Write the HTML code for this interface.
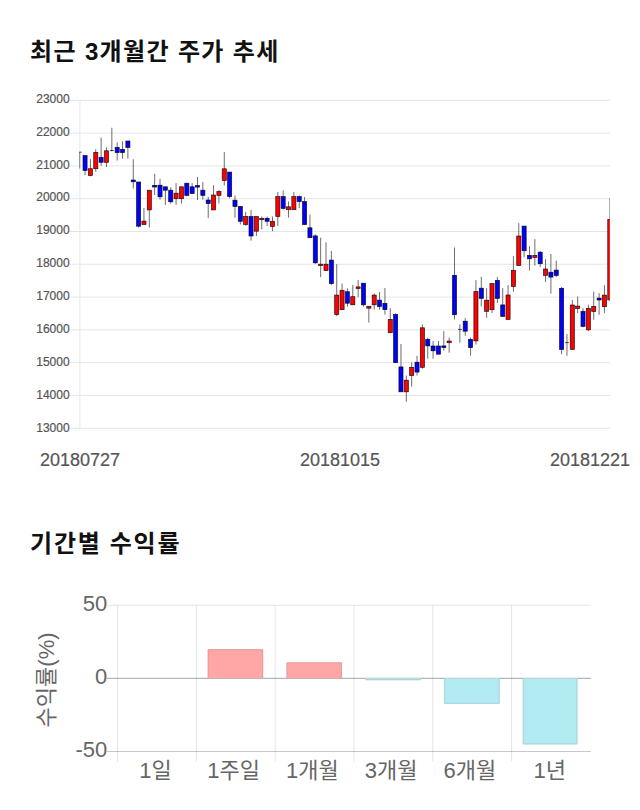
<!DOCTYPE html>
<html lang="ko"><head><meta charset="utf-8"><title>최근 3개월간 주가 추세 / 기간별 수익률</title>
<style>
html,body{margin:0;padding:0;background:#fff}
body{width:640px;height:810px;overflow:hidden;position:relative;font-family:"Liberation Sans",sans-serif}
svg{position:absolute;left:0;top:0;display:block}
defs path{vector-effect:non-scaling-stroke}
text{font-family:"Liberation Sans","Noto Sans CJK KR",sans-serif}
</style></head>
<body>
<svg width="640" height="810" viewBox="0 0 640 810" role="img">
<title>최근 3개월간 주가 추세 (20180727 ~ 20181221), 기간별 수익률 (1일, 1주일, 1개월, 3개월, 6개월, 1년)</title>
<defs>
<clipPath id="cp"><rect x="79.2" y="90" width="530.6" height="345"/></clipPath>
</defs>
<g fill="#111" aria-label="최근 3개월간 주가 추세"><text x="30" y="60.3" font-size="24" font-weight="bold" textLength="248.3" lengthAdjust="spacing">최근 3개월간 주가 추세</text></g>
<g fill="#111" aria-label="기간별 수익률"><text x="30.1" y="551.8" font-size="24" font-weight="bold" textLength="149.4" lengthAdjust="spacing">기간별 수익률</text></g>
<g stroke="#e5e5e5" stroke-width="1">
<line x1="69.4" x2="609.8" y1="100.3" y2="100.3"/>
<line x1="69.4" x2="609.8" y1="133.09" y2="133.09"/>
<line x1="69.4" x2="609.8" y1="165.89" y2="165.89"/>
<line x1="69.4" x2="609.8" y1="198.69" y2="198.69"/>
<line x1="69.4" x2="609.8" y1="231.48" y2="231.48"/>
<line x1="69.4" x2="609.8" y1="264.28" y2="264.28"/>
<line x1="69.4" x2="609.8" y1="297.07" y2="297.07"/>
<line x1="69.4" x2="609.8" y1="329.87" y2="329.87"/>
<line x1="69.4" x2="609.8" y1="362.66" y2="362.66"/>
<line x1="69.4" x2="609.8" y1="395.46" y2="395.46"/>
<line x1="69.4" x2="609.8" y1="428.25" y2="428.25"/>
</g>
<line x1="79.9" x2="79.9" y1="100.3" y2="428.25" stroke="#e8e8e8" stroke-width="1.1"/>
<g fill="#555" stroke="#555" stroke-width="0.2" font-size="12" text-anchor="end">
<text x="69.65" y="102.75">23000</text>
<text x="69.65" y="135.65">22000</text>
<text x="69.65" y="168.55">21000</text>
<text x="69.65" y="201.45">20000</text>
<text x="69.65" y="234.35">19000</text>
<text x="69.65" y="267.25">18000</text>
<text x="69.65" y="300.15">17000</text>
<text x="69.65" y="333.05">16000</text>
<text x="69.65" y="365.95">15000</text>
<text x="69.65" y="398.85">14000</text>
<text x="69.65" y="431.75">13000</text>
</g>
<g clip-path="url(#cp)">
<path d="M79.7 152.2V168.5M85.05 155.6V175.2M90.41 158.9V176.3M95.76 149.2V171.8M101.12 137.5V165.7M106.47 147.4V167.1M111.83 127.7V151.5M117.18 142.4V160.6M122.54 141.3V158.7M127.89 141V158.7M133.25 159.2V188.6M138.6 182V227.5M143.95 208.1V224.5M149.31 190.2V227.5M154.66 173.9V195M160.02 178.7V199.7M165.37 186.8V204.9M170.73 187.3V203.6M176.08 183.2V204.9M181.44 186.8V203.6M186.79 183.2V196.4M192.14 183.2V193.6M197.5 176.9V200M202.85 182.1V199.7M208.21 196.8V218.1M213.56 185.2V209.9M218.92 190V203.6M224.27 151.9V185.5M229.63 172.1V198.2M234.98 195.5V217.6M240.33 206.4V224.4M245.69 211.8V225.8M251.04 210V240.7M256.4 216.5V236M261.75 216.5V229.4M267.11 216.5V226M272.46 216.5V231.2M277.82 192.1V226M283.17 190.3V209.5M288.53 201.6V217.6M293.88 192.1V209.7M299.23 195.5V208.1M304.59 197V224.6M309.94 214.6V237.7M315.3 234.2V263.8M320.65 237.7V277.1M326.01 242.3V270.6M331.36 250.9V285.2M336.72 264.2V316.1M342.07 283.5V309.7M347.42 288.3V306.6M352.78 285.1V304.8M358.13 280.1V297.1M363.49 283.2V306.6M368.84 306.3V322.6M374.2 293.5V309.7M379.55 292V309.6M384.91 288.1V314.6M390.26 308.2V332.7M395.62 313.3V362.6M400.97 344V391.8M406.32 375.5V401.7M411.68 362.4V386.7M417.03 355.8V375.5M422.39 324.5V368.7M427.74 337.7V358.8M433.1 341V358.8M438.45 341V354.2M443.81 331.1V350.6M449.16 337.6V352.7M454.51 247.5V319.5M459.87 324.3V342.6M465.22 318.1V335.8M470.58 337.6V355.6M475.93 280.1V344.5M481.29 276.9V306.5M486.64 288.2V317.8M492 283.5V313.1M497.35 276.9V303.1M502.71 288.2V316.5M508.06 285.2V319.4M513.41 255.9V291.7M518.77 223.1V265.6M524.12 226.1V257.3M529.48 246.1V270.5M534.83 239.1V265.6M540.19 251V267.1M545.54 259.1V281.9M550.9 254V293.7M556.25 260.6V277M561.61 287V354.2M566.96 334.1V355.8M572.31 300V349.4M577.67 296.5V313M583.02 308.3V327.3M588.38 304.8V331.1M593.73 291.7V319.7M599.09 293.2V314.8M604.44 285.2V313.2M609.8 197.9V301" stroke="#000" stroke-opacity="0.68" stroke-width="0.85" fill="none"/>
<path d="M77.8 152.2H81.6M109.93 150.5H113.73M457.97 329.4H461.77M565.06 342.6H568.86" stroke="#000" stroke-opacity="0.85" stroke-width="0.8" fill="none"/>
<g stroke="#000" stroke-opacity="0.85" stroke-width="0.7">
<g fill="#0000ff"><rect x="83" y="155.6" width="4.1" height="14.9"/><rect x="99.07" y="157.3" width="4.1" height="5"/><rect x="115.13" y="147.4" width="4.1" height="5.2"/><rect x="120.49" y="149.4" width="4.1" height="3.2"/><rect x="125.84" y="141" width="4.1" height="6.4"/><rect x="131.19" y="180" width="4.1" height="1.8"/><rect x="136.55" y="182" width="4.1" height="44.2"/><rect x="152.61" y="185.4" width="4.1" height="1.6"/><rect x="157.97" y="185.2" width="4.1" height="11.6"/><rect x="163.32" y="186.8" width="4.1" height="3.4"/><rect x="168.68" y="190.2" width="4.1" height="11.6"/><rect x="184.74" y="183.2" width="4.1" height="12.2"/><rect x="190.09" y="186.8" width="4.1" height="6.8"/><rect x="195.45" y="185.5" width="4.1" height="1.6"/><rect x="200.8" y="190.2" width="4.1" height="5.2"/><rect x="206.16" y="200" width="4.1" height="3.6"/><rect x="227.58" y="172.1" width="4.1" height="24.5"/><rect x="232.93" y="200.2" width="4.1" height="6.2"/><rect x="238.28" y="206.4" width="4.1" height="14.9"/><rect x="248.99" y="216.5" width="4.1" height="19.5"/><rect x="265.06" y="218.3" width="4.1" height="3"/><rect x="281.12" y="196.6" width="4.1" height="11.8"/><rect x="297.18" y="196.6" width="4.1" height="4.9"/><rect x="302.54" y="201.5" width="4.1" height="23.1"/><rect x="307.89" y="227.8" width="4.1" height="9.9"/><rect x="313.25" y="235.9" width="4.1" height="26.9"/><rect x="329.31" y="260.1" width="4.1" height="23.5"/><rect x="345.37" y="291.7" width="4.1" height="11.5"/><rect x="361.44" y="283.2" width="4.1" height="21.6"/><rect x="377.5" y="300.1" width="4.1" height="6.4"/><rect x="382.86" y="303.4" width="4.1" height="6.2"/><rect x="393.57" y="314.6" width="4.1" height="48"/><rect x="398.92" y="366.9" width="4.1" height="24.9"/><rect x="414.98" y="362.2" width="4.1" height="9.9"/><rect x="425.69" y="339.3" width="4.1" height="6.6"/><rect x="431.05" y="346" width="4.1" height="4.8"/><rect x="436.4" y="346" width="4.1" height="8.2"/><rect x="441.76" y="345.9" width="4.1" height="1.7"/><rect x="452.46" y="275.3" width="4.1" height="39.4"/><rect x="463.17" y="321.2" width="4.1" height="10"/><rect x="468.53" y="339.3" width="4.1" height="8.3"/><rect x="479.24" y="288.2" width="4.1" height="10.2"/><rect x="495.3" y="280.3" width="4.1" height="18.1"/><rect x="500.66" y="304.9" width="4.1" height="11.6"/><rect x="522.07" y="226.1" width="4.1" height="24.6"/><rect x="527.43" y="255.4" width="4.1" height="3.4"/><rect x="538.14" y="252.2" width="4.1" height="11.5"/><rect x="548.85" y="272.2" width="4.1" height="4.9"/><rect x="554.2" y="270.1" width="4.1" height="5.3"/><rect x="559.56" y="288.3" width="4.1" height="61.1"/><rect x="580.97" y="311.3" width="4.1" height="15.1"/><rect x="597.04" y="298.1" width="4.1" height="1.9"/></g>
<g fill="#ff0000"><rect x="88.36" y="168.7" width="4.1" height="6.8"/><rect x="93.71" y="152.4" width="4.1" height="16.3"/><rect x="104.42" y="150.8" width="4.1" height="11.5"/><rect x="141.9" y="221.1" width="4.1" height="3.4"/><rect x="147.26" y="190.2" width="4.1" height="19.7"/><rect x="174.03" y="193.2" width="4.1" height="5.5"/><rect x="179.39" y="186.8" width="4.1" height="11.9"/><rect x="211.51" y="195" width="4.1" height="14.9"/><rect x="216.87" y="191.6" width="4.1" height="3.8"/><rect x="222.22" y="168.8" width="4.1" height="11.7"/><rect x="243.64" y="216.5" width="4.1" height="7.9"/><rect x="254.35" y="216.5" width="4.1" height="14.7"/><rect x="259.7" y="218.3" width="4.1" height="1.4"/><rect x="270.41" y="221.3" width="4.1" height="5.2"/><rect x="275.77" y="196.6" width="4.1" height="19.9"/><rect x="286.48" y="206.8" width="4.1" height="2.9"/><rect x="291.83" y="196.6" width="4.1" height="13.1"/><rect x="318.6" y="264.2" width="4.1" height="1.3"/><rect x="323.96" y="264.2" width="4.1" height="6.4"/><rect x="334.67" y="295.1" width="4.1" height="19.4"/><rect x="340.02" y="290.3" width="4.1" height="19.4"/><rect x="350.73" y="296.7" width="4.1" height="8.1"/><rect x="356.08" y="286.9" width="4.1" height="1.6"/><rect x="366.79" y="306.3" width="4.1" height="1.9"/><rect x="372.15" y="295.1" width="4.1" height="9.7"/><rect x="388.21" y="319.4" width="4.1" height="13.3"/><rect x="404.27" y="380.2" width="4.1" height="11.6"/><rect x="409.63" y="367.3" width="4.1" height="8.2"/><rect x="420.34" y="327.8" width="4.1" height="39.5"/><rect x="447.11" y="341" width="4.1" height="1.7"/><rect x="473.88" y="291.6" width="4.1" height="49.3"/><rect x="484.59" y="300.2" width="4.1" height="11.1"/><rect x="489.95" y="283.5" width="4.1" height="26.2"/><rect x="506.01" y="295" width="4.1" height="24.4"/><rect x="511.36" y="270.3" width="4.1" height="16.3"/><rect x="516.72" y="236" width="4.1" height="29.6"/><rect x="532.78" y="255.4" width="4.1" height="2"/><rect x="543.49" y="269" width="4.1" height="6.4"/><rect x="570.26" y="305" width="4.1" height="44.4"/><rect x="575.62" y="306.1" width="4.1" height="2.3"/><rect x="586.33" y="308.3" width="4.1" height="21.5"/><rect x="591.68" y="306.4" width="4.1" height="5"/><rect x="602.39" y="295.1" width="4.1" height="11.6"/><rect x="607.75" y="219.4" width="4.1" height="80.5"/></g>
</g>
</g>
<g fill="#555" stroke="#555" stroke-width="0.2" font-size="18">
<text x="40" y="465.6">20180727</text>
<text x="300" y="465.6">20181015</text>
<text x="550" y="465.6">20181221</text>
</g>
<g stroke="#000" stroke-opacity="0.1" stroke-width="1">
<line x1="117.5" x2="117.5" y1="605.3" y2="761.5"/>
<line x1="196.32" x2="196.32" y1="605.3" y2="761.5"/>
<line x1="275.14" x2="275.14" y1="605.3" y2="761.5"/>
<line x1="353.96" x2="353.96" y1="605.3" y2="761.5"/>
<line x1="432.78" x2="432.78" y1="605.3" y2="761.5"/>
<line x1="511.6" x2="511.6" y1="605.3" y2="761.5"/>
<line x1="107" x2="591" y1="605.3" y2="605.3"/>
<line x1="107" x2="591" y1="751.5" y2="751.5" stroke-opacity="0.22"/>
</g>
<line x1="107" x2="591" y1="678.3" y2="678.3" stroke="#000" stroke-opacity="0.36" stroke-width="1"/>
<rect x="207.73" y="649.2" width="55.4" height="29.1" fill="#ffa6a6"/>
<path d="M208.23 678.3V649.7H262.63V678.3" fill="none" stroke="#e29a9a" stroke-width="1" stroke-opacity="0.8"/>
<rect x="286.55" y="662.4" width="55.4" height="15.9" fill="#ffa6a6"/>
<path d="M287.05 678.3V662.9H341.45V678.3" fill="none" stroke="#e29a9a" stroke-width="1" stroke-opacity="0.8"/>
<rect x="365.37" y="678.3" width="55.4" height="1.9" fill="#b2ebf2"/>
<path d="M365.87 678.3V679.7H420.27V678.3" fill="none" stroke="#a3cdd3" stroke-width="1" stroke-opacity="0.8"/>
<rect x="444.19" y="678.3" width="55.4" height="25.5" fill="#b2ebf2"/>
<path d="M444.69 678.3V703.3H499.09V678.3" fill="none" stroke="#a3cdd3" stroke-width="1" stroke-opacity="0.8"/>
<rect x="522.81" y="678.3" width="54.6" height="66.1" fill="#b2ebf2"/>
<path d="M523.31 678.3V743.9H576.91V678.3" fill="none" stroke="#a3cdd3" stroke-width="1" stroke-opacity="0.8"/>
<g fill="#666" font-size="22">
<text x="107.2" y="610.95" text-anchor="end">50</text>
<text x="107.2" y="683.95" text-anchor="end">0</text>
<text x="107.2" y="757.15" text-anchor="end">-50</text>
<text x="139.34" y="777.9">1일</text>
<text x="207.16" y="777.9">1주일</text>
<text x="285.98" y="777.9">1개월</text>
<text x="364.8" y="777.9">3개월</text>
<text x="443.62" y="777.9">6개월</text>
<text x="533.44" y="777.9">1년</text>
<text transform="translate(54.1 727.41) rotate(-90)" x="0" y="0">수익률(%)</text>
</g>
</svg>
</body></html>
